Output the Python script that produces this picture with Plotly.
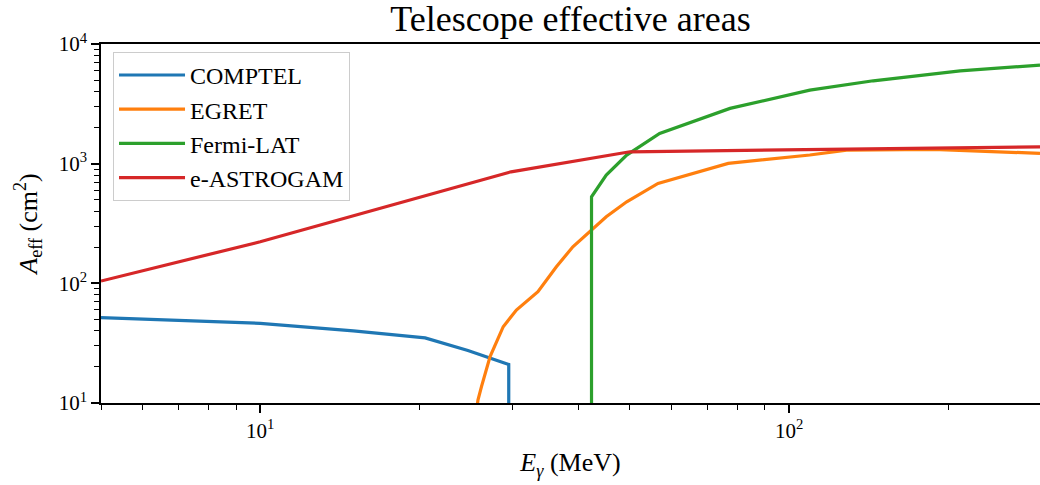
import plotly.graph_objects as go
import math

# ---- data ----
comptel_E = [5, 10, 15, 20.5, 24.7, 29.5, 29.5]
comptel_A = [51.6, 46.3, 40.0, 35.0, 27.5, 21.0, 1.0]

egret_E = [25.5, 25.8, 26.2, 27.2, 28.8, 30.5, 33.5, 36.3, 39.0, 42.0, 45.1, 49.3, 56.5, 76.7, 109.4, 128.4, 187.3, 298]
egret_A = [7.0, 10.6, 13.7, 24.4, 43.4, 59.8, 85.1, 137.6, 202, 270, 360, 480, 684, 1006, 1181, 1299, 1317, 1219]

fermi_E = [42.3, 42.3, 45.1, 49.3, 56.9, 77.3, 109.4, 144.2, 210.5, 298]
fermi_A = [1.0, 529, 804, 1180, 1791, 2897, 4121, 4927, 5970, 6662]

astro_E = [5, 10, 29.8, 50, 298]
astro_A = [104.5, 222.6, 855, 1257, 1384]

series_names = ["COMPTEL", "EGRET", "Fermi-LAT", "e-ASTROGAM"]
series_colors = ["#1f77b4", "#ff7f0e", "#2ca02c", "#d62728"]

x_major = [10, 100]
x_major_text = ["10<sup>1</sup>", "10<sup>2</sup>"]
y_major = [10, 100, 1000, 10000]
y_major_text = ["10<sup>1</sup>", "10<sup>2</sup>", "10<sup>3</sup>", "10<sup>4</sup>"]

x_minor = [5, 6, 7, 8, 9, 20, 30, 40, 50, 60, 70, 80, 90, 200]
y_minor = [m * d for d in (10, 100, 1000) for m in range(2, 10)]

FONT = "Liberation Serif"

fig = go.Figure()
for name, color, E, A in zip(series_names, series_colors,
                             [comptel_E, egret_E, fermi_E, astro_E],
                             [comptel_A, egret_A, fermi_A, astro_A]):
    fig.add_trace(go.Scatter(x=E, y=A, mode="lines", name=name,
                             line=dict(color=color, width=3.2)))

axis_common = dict(
    type="log",
    showgrid=False,
    zeroline=False,
    showline=True,
    linecolor="black",
    linewidth=1.6,
    ticks="outside",
    ticklen=8,
    tickwidth=1.6,
    tickcolor="black",
    tickfont=dict(family=FONT, size=21, color="black"),
)

fig.update_layout(
    width=1040,
    height=485,
    margin=dict(l=101, r=0, t=44, b=82),
    paper_bgcolor="white",
    plot_bgcolor="white",
    title=dict(text="Telescope effective areas", x=0.5, xref="paper",
               y=0.988, yref="container", yanchor="top",
               font=dict(family=FONT, size=36, color="black")),
    xaxis=dict(
        **axis_common,
        range=[math.log10(5), math.log10(298)],
        mirror=True,
        tickmode="array", tickvals=x_major, ticktext=x_major_text,
        minor=dict(tickmode="array", tickvals=x_minor, ticks="outside",
                   ticklen=5, tickwidth=1.2, tickcolor="black"),
        title=dict(text="<i>E</i><sub><i>γ</i></sub> (MeV)",
                   font=dict(family=FONT, size=26, color="black"),
                   standoff=11),
    ),
    yaxis=dict(
        **axis_common,
        range=[1, 4],
        mirror=False,
        tickmode="array", tickvals=y_major, ticktext=y_major_text,
        minor=dict(tickmode="array", tickvals=y_minor, ticks="outside",
                   ticklen=5, tickwidth=1.2, tickcolor="black"),
        title=dict(text="<i>A</i><sub>eff</sub> (cm<sup>2</sup>)",
                   font=dict(family=FONT, size=26, color="black"),
                   standoff=14),
    ),
    legend=dict(
        x=0.0128, y=0.978, xanchor="left", yanchor="top",
        bgcolor="white", bordercolor="#cccccc", borderwidth=1,
        itemwidth=66,
        font=dict(family=FONT, size=24, color="black"),
    ),
    showlegend=True,
)

fig.write_html("out.html")
